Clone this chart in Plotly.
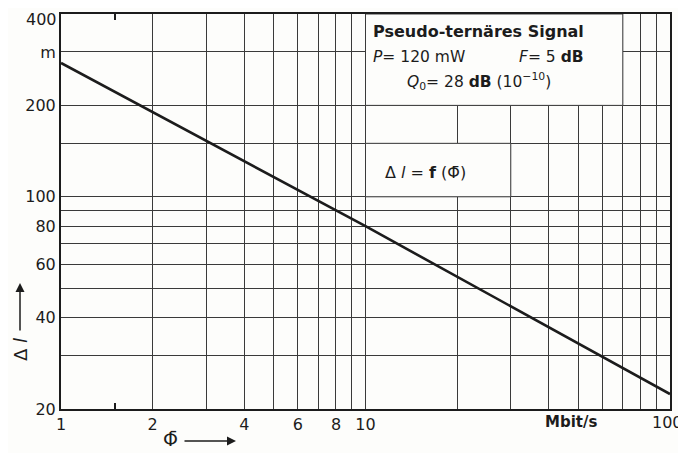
import plotly.graph_objects as go

# Kurve: Längenreserve über Bitrate
bitrate = [1, 2, 10, 100]
delta_l = [276, 190, 80, 22.4]

# Gitter / Achsbeschriftung
x_grid = [1, 2, 3, 4, 5, 6, 7, 8, 9, 10, 20, 30, 40, 50, 60, 70, 80, 90, 100]
x_text = ['1', '2', '', '4', '', '6', '', '8', '', '10', '', '', '', '', '', '', '', '', '']
x_end_label = '100'
y_grid = [20, 30, 40, 50, 60, 70, 80, 90, 100, 150, 200, 300, 400]
y_text = ['20', '', '40', '', '60', '', '80', '', '100', '', '200', 'm', '']
y_top_label = '400'

INK = '#1c1c1c'
GRID = '#3a3a3a'
FONT = 'DejaVu Sans'

# Seite hat 8px body-Rand -> alles um OFF verschieben
OFF = 8
W, H = 686, 453
L, T = 61 - OFF, 14 - OFF
R, B = W - (670 - OFF), H - (409 - OFF)


def px(x, y):
    """Seiten-Pixel -> paper Koordinaten"""
    x, y = x - OFF, y - OFF
    return (x - L) / (W - L - R), (H - B - y) / (H - T - B)


def label(text, x, y, size, xanchor='center', yanchor='middle', **kw):
    ax, ay = px(x, y)
    fig.add_annotation(text=text, x=ax, y=ay, xref='paper', yref='paper',
                       xanchor=xanchor, yanchor=yanchor, showarrow=False,
                       font=dict(family=FONT, size=size, color=INK), **kw)


def arrow(x, y, dx, dy):
    ax, ay = px(x, y)
    fig.add_annotation(x=ax, y=ay, xref='paper', yref='paper', ax=dx, ay=dy,
                       text='', showarrow=True, arrowhead=2, arrowsize=1.2,
                       arrowwidth=1.5, arrowcolor=INK)


fig = go.Figure()
fig.add_trace(go.Scatter(x=bitrate, y=delta_l, mode='lines',
                         line=dict(color=INK, width=2.6), hoverinfo='skip'))

# weiße Textfelder über dem Gitter (Datenwerte, auch bei log-Achsen)
box_style = dict(type='rect', xref='x', yref='y', layer='between',
                 fillcolor='#fdfdfb', line=dict(color=GRID, width=1))
fig.add_shape(x0=10, x1=70, y0=200, y1=400, **box_style)
fig.add_shape(x0=10, x1=30, y0=100, y1=150, **box_style)

label('<b>Pseudo-ternäres Signal</b>', 371, 31, 16, xanchor='left')
label('<i>P</i>= 120 mW', 371, 57, 15.5, xanchor='left')
label('<i>F</i>= 5 <b>dB</b>', 517, 57, 15.5, xanchor='left')
label('<i>Q</i><sub>0</sub>= 28 <b>dB</b> (10<sup>−10</sup>)', 405, 81, 15.5, xanchor='left')
label('Δ <i>l</i> = <b>f</b> (Φ̄)', 383, 172, 16, xanchor='left')

# Randbeschriftungen (würden am Fensterrand abgeschnitten)
label(y_top_label, 59, 8, 16, xanchor='right', yanchor='top')
label(x_end_label, 685, 422, 16, xanchor='right')

# Einheit an der x-Achse
label('<b>Mbit/s</b>', 571, 422, 15)

# Achsentitel mit Pfeilen
label('Δ <i>l</i>', 20, 350, 18, textangle=-90)
arrow(20, 283, 0, 49)
label('Φ̄', 170, 439, 19)
arrow(236, 441, -53, 0)

axis_common = dict(showline=True, linecolor=INK, linewidth=2, mirror='ticks',
                   showgrid=True, gridcolor=GRID, gridwidth=1, ticks='',
                   zeroline=False, automargin=False,
                   tickfont=dict(family=FONT, size=16, color=INK))

fig.update_xaxes(type='log', range=[0, 2], tickmode='array',
                 tickvals=x_grid, ticktext=x_text, ticklabelstandoff=0,
                 minor=dict(tickmode='array', tickvals=[1.5], ticks='inside',
                            ticklen=6, tickcolor=INK, tickwidth=1.5, showgrid=False),
                 **axis_common)
fig.update_yaxes(type='log', range=[1.30103, 2.60206], tickmode='array',
                 tickvals=y_grid, ticktext=y_text, ticklabelstandoff=0,
                 **axis_common)

fig.update_layout(width=W, height=H, showlegend=False,
                  margin=dict(l=L, r=R, t=T, b=B),
                  paper_bgcolor='#fdfdfb', plot_bgcolor='#fdfdfb',
                  font=dict(family=FONT, color=INK))

fig.write_html("out.html")
